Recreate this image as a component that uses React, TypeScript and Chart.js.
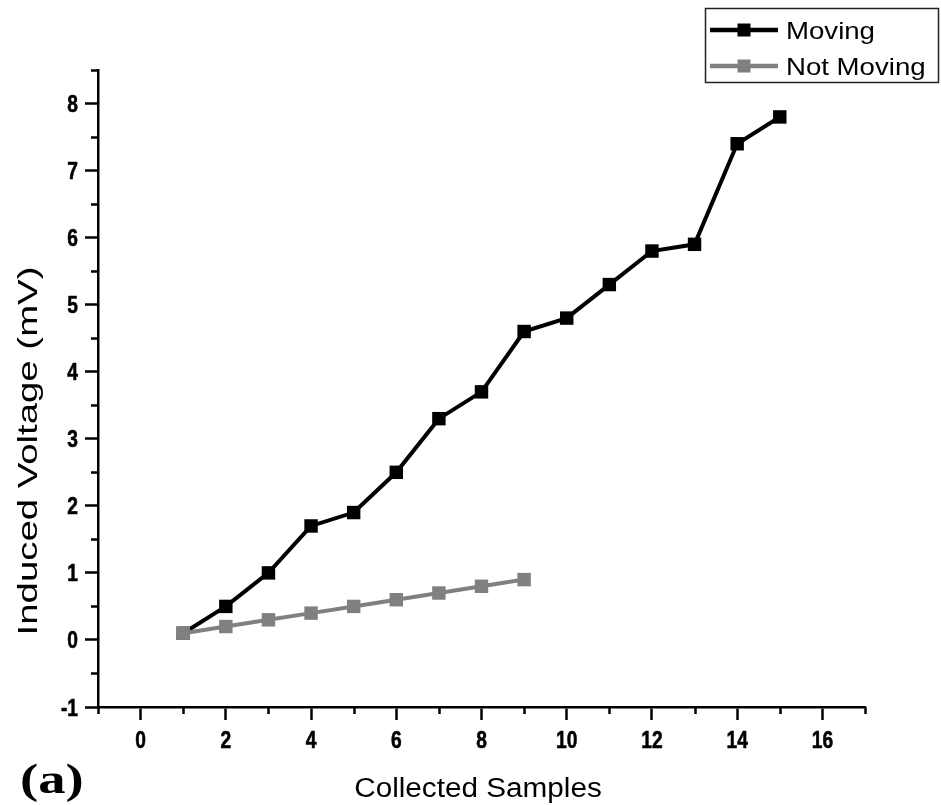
import React, { useEffect, useRef } from "react";
import { Chart, registerables } from "chart.js";

Chart.register(...registerables);

// ---- data ----
const seriesLabels = ["Moving", "Not Moving"];
const seriesColors = ["#000000", "#808080"];
const samplesMoving = [1, 2, 3, 4, 5, 6, 7, 8, 9, 10, 11, 12, 13, 14, 15];
const voltageMoving = [0.1, 0.5, 1.0, 1.7, 1.9, 2.5, 3.3, 3.7, 4.6, 4.8, 5.3, 5.8, 5.9, 7.4, 7.8];
const samplesNotMoving = [1, 2, 3, 4, 5, 6, 7, 8, 9];
const voltageNotMoving = [0.1, 0.2, 0.3, 0.4, 0.5, 0.6, 0.7, 0.8, 0.9];

const xMajorTicks = [0, 2, 4, 6, 8, 10, 12, 14, 16];
const xMinorTicks = [-1, 1, 3, 5, 7, 9, 11, 13, 15, 17];
const yMajorTicks = [-1, 0, 1, 2, 3, 4, 5, 6, 7, 8];
const yMinorTicks = [-0.5, 0.5, 1.5, 2.5, 3.5, 4.5, 5.5, 6.5, 7.5, 8.5];

const xTitle = "Collected Samples";
const yTitle = "Induced Voltage (mV)";
const panelLabel = "(a)";

const SANS = '"Liberation Sans", Arial, sans-serif';
const SERIF = '"Liberation Serif", "Times New Roman", serif';

function stretchedText(
  ctx: CanvasRenderingContext2D,
  text: string,
  x: number,
  y: number,
  font: string,
  sx: number,
  align: CanvasTextAlign,
  rotate = 0,
  strokeW = 0
) {
  ctx.save();
  ctx.translate(x, y);
  if (rotate) ctx.rotate(rotate);
  ctx.scale(sx, 1);
  ctx.font = font;
  ctx.textAlign = align;
  ctx.textBaseline = "alphabetic";
  ctx.fillStyle = "#000";
  ctx.fillText(text, 0, 0);
  if (strokeW > 0) {
    ctx.strokeStyle = "#000";
    ctx.lineWidth = strokeW;
    ctx.lineJoin = "round";
    ctx.strokeText(text, 0, 0);
  }
  ctx.restore();
}

const decorPlugin = {
  id: "decor",
  afterDraw(chart: any) {
    const ctx: CanvasRenderingContext2D = chart.ctx;
    const xs = chart.scales.x;
    const ys = chart.scales.y;
    const area = chart.chartArea;
    ctx.save();
    // minor ticks
    ctx.strokeStyle = "#000";
    ctx.lineWidth = 2.5;
    ctx.beginPath();
    xMinorTicks.forEach((v) => {
      const px = Math.round(xs.getPixelForValue(v)) + 0.5;
      ctx.moveTo(px, area.bottom);
      ctx.lineTo(px, area.bottom + 7);
    });
    yMinorTicks.forEach((v) => {
      const py = Math.round(ys.getPixelForValue(v)) + 0.5;
      ctx.moveTo(area.left, py);
      ctx.lineTo(area.left - 7, py);
    });
    ctx.stroke();

    // tick labels (narrow bold digits)
    const tickFont = `bold 24px ${SANS}`;
    xMajorTicks.forEach((v) => {
      stretchedText(ctx, String(v), xs.getPixelForValue(v), area.bottom + 41, tickFont, 0.8, "center", 0, 0.6);
    });
    yMajorTicks.forEach((v) => {
      stretchedText(ctx, String(v), area.left - 20, ys.getPixelForValue(v) + 8.5, tickFont, 0.8, "right", 0, 0.6);
    });

    // axis titles
    stretchedText(ctx, xTitle, 478, 797, `27px ${SANS}`, 1.1, "center");
    stretchedText(ctx, yTitle, 37, 451, `28px ${SANS}`, 1.37, "center", -Math.PI / 2);

    // panel label
    stretchedText(ctx, panelLabel, 20, 793, `bold 42px ${SERIF}`, 1.3, "left");

    // legend
    ctx.strokeStyle = "#222";
    ctx.lineWidth = 1.5;
    ctx.strokeRect(705.5, 8.5, 233, 74);
    const rows = [30, 66];
    chart.data.datasets
      .slice()
      .sort((a: any, b: any) => seriesLabels.indexOf(a.label) - seriesLabels.indexOf(b.label))
      .forEach((ds: any, i: number) => {
        const yRow = rows[i];
        ctx.strokeStyle = ds.borderColor;
        ctx.lineWidth = 4.5;
        ctx.beginPath();
        ctx.moveTo(710, yRow);
        ctx.lineTo(778, yRow);
        ctx.stroke();
        ctx.fillStyle = ds.backgroundColor;
        ctx.fillRect(744 - 6.5, yRow - 6.5, 13, 13);
        stretchedText(ctx, ds.label, 786, yRow + 9, `24px ${SANS}`, 1.15, "left");
      });
    ctx.restore();
  },
};

export default function App() {
  const canvasRef = useRef<HTMLCanvasElement | null>(null);

  useEffect(() => {
    const canvas = canvasRef.current;
    if (!canvas) return;
    const chart = new Chart(canvas, {
      type: "line",
      data: {
        datasets: [
          {
            label: seriesLabels[1],
            data: samplesNotMoving.map((x, i) => ({ x, y: voltageNotMoving[i] })),
            borderColor: seriesColors[1],
            backgroundColor: seriesColors[1],
            borderWidth: 4,
            pointStyle: "rect",
            pointRadius: 9.5,
            pointBorderWidth: 0,
            pointHoverRadius: 9.5,
            order: 0,
          },
          {
            label: seriesLabels[0],
            data: samplesMoving.map((x, i) => ({ x, y: voltageMoving[i] })),
            borderColor: seriesColors[0],
            backgroundColor: seriesColors[0],
            borderWidth: 4,
            pointStyle: "rect",
            pointRadius: 9.5,
            pointBorderWidth: 0,
            pointHoverRadius: 9.5,
            order: 1,
          },
        ],
      },
      options: {
        animation: false,
        responsive: false,
        maintainAspectRatio: false,
        events: [],
        layout: { padding: { left: 0, top: 70, right: 76, bottom: 0 } },
        plugins: {
          legend: { display: false },
          tooltip: { enabled: false },
          title: { display: false },
        },
        scales: {
          x: {
            type: "linear",
            min: -1,
            max: 17,
            afterBuildTicks: (s: any) => {
              s.ticks = xMajorTicks.map((v) => ({ value: v }));
            },
            afterFit: (s: any) => {
              s.height = 98;
            },
            grid: {
              display: true,
              drawOnChartArea: false,
              drawTicks: true,
              tickLength: 13,
              tickWidth: 2.5,
              tickColor: "#000",
            },
            border: { display: true, color: "#000", width: 2.5 },
            ticks: { display: false, autoSkip: false },
          },
          y: {
            type: "linear",
            min: -1,
            max: 8.5,
            afterBuildTicks: (s: any) => {
              s.ticks = yMajorTicks.map((v) => ({ value: v }));
            },
            afterFit: (s: any) => {
              s.width = 98;
            },
            grid: {
              display: true,
              drawOnChartArea: false,
              drawTicks: true,
              tickLength: 13,
              tickWidth: 2.5,
              tickColor: "#000",
            },
            border: { display: true, color: "#000", width: 2.5 },
            ticks: { display: false, autoSkip: false },
          },
        },
      },
      plugins: [decorPlugin],
    } as any);
    return () => chart.destroy();
  }, []);

  return (
    <div style={{ position: "fixed", left: 0, top: 0, width: 941, height: 805, background: "#fff" }}>
      <canvas ref={canvasRef} width={941} height={805} style={{ display: "block" }} />
    </div>
  );
}
